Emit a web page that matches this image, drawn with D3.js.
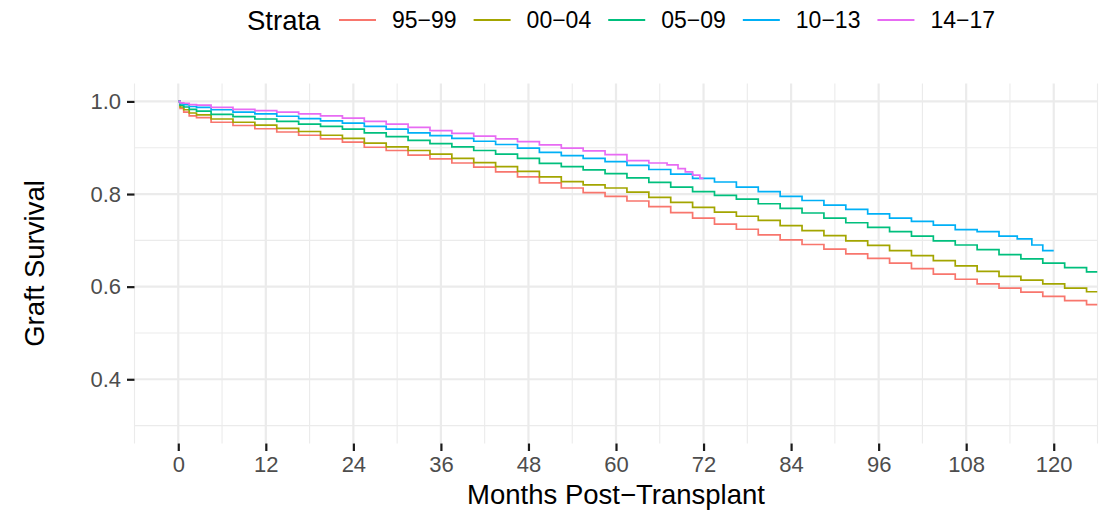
<!DOCTYPE html>
<html>
<head>
<meta charset="utf-8">
<script src="https://cdn.jsdelivr.net/npm/d3@7"></script>
<style>
  html, body { margin: 0; padding: 0; background: #ffffff; }
  svg { display: block; font-family: "Liberation Sans", Arial, Helvetica, sans-serif; }
</style>
</head>
<body>
<svg id="chart" width="1113" height="511"></svg>
<script>
// Kaplan-Meier graft survival by transplant era (strata)
const strata = ["95\u221299", "00\u221204", "05\u221209", "10\u221213", "14\u221217"];
const colors = ["#F8766D", "#A3A500", "#00BF7D", "#00B0F6", "#E76BF3"];

// months at which survival is tabulated
const monthsFull = [0, 0.5, 1, 2, 3, 6, 9, 12, 15, 18, 21, 24, 27, 30, 33, 36, 39, 42, 45, 48,
  51, 54, 57, 60, 63, 66, 69, 72, 75, 78, 81, 84, 87, 90, 93, 96, 99, 102, 105, 108,
  111, 114, 117, 120, 123, 126];

const surv9599 = [1.000, 0.985, 0.977, 0.969, 0.965, 0.955, 0.948, 0.941, 0.934, 0.927, 0.919, 0.912,
  0.901, 0.894, 0.884, 0.876, 0.867, 0.858, 0.848, 0.837, 0.824, 0.813, 0.803, 0.795, 0.785,
  0.773, 0.760, 0.748, 0.735, 0.724, 0.712, 0.701, 0.691, 0.681, 0.671, 0.661, 0.651, 0.639,
  0.627, 0.616, 0.606, 0.597, 0.588, 0.579, 0.570, 0.561];

const surv0004 = [1.000, 0.988, 0.982, 0.975, 0.971, 0.962, 0.955, 0.949, 0.942, 0.935, 0.927, 0.920,
  0.910, 0.902, 0.894, 0.886, 0.877, 0.868, 0.859, 0.849, 0.837, 0.827, 0.820, 0.813, 0.804,
  0.793, 0.782, 0.771, 0.761, 0.752, 0.743, 0.732, 0.721, 0.710, 0.699, 0.689, 0.678, 0.667,
  0.656, 0.645, 0.633, 0.622, 0.614, 0.606, 0.597, 0.589];

const surv0509 = [1.000, 0.992, 0.988, 0.983, 0.979, 0.972, 0.967, 0.962, 0.957, 0.951, 0.946, 0.940,
  0.932, 0.924, 0.916, 0.909, 0.902, 0.894, 0.886, 0.877, 0.866, 0.859, 0.852, 0.844, 0.835,
  0.825, 0.815, 0.805, 0.797, 0.789, 0.779, 0.769, 0.759, 0.748, 0.738, 0.728, 0.719, 0.709,
  0.699, 0.690, 0.680, 0.669, 0.660, 0.651, 0.641, 0.632];

const months1013 = [0, 0.5, 1, 2, 3, 6, 9, 12, 15, 18, 21, 24, 27, 30, 33, 36, 39, 42, 45, 48,
  51, 54, 57, 60, 63, 66, 69, 72, 75, 78, 81, 84, 87, 90, 93, 96, 99, 102, 105, 108,
  111, 114, 116, 118, 119, 120];
const surv1013 = [1.000, 0.995, 0.993, 0.989, 0.987, 0.982, 0.977, 0.973, 0.968, 0.963, 0.958, 0.953,
  0.946, 0.940, 0.932, 0.926, 0.920, 0.914, 0.907, 0.899, 0.890, 0.883, 0.877, 0.870, 0.862,
  0.853, 0.843, 0.834, 0.826, 0.815, 0.805, 0.795, 0.786, 0.776, 0.767, 0.757, 0.748, 0.741,
  0.733, 0.723, 0.719, 0.709, 0.703, 0.690, 0.678, 0.678];

const months1417 = [0, 0.5, 1, 2, 3, 6, 9, 12, 15, 18, 21, 24, 27, 30, 33, 36, 39, 42, 45, 48,
  51, 54, 57, 60, 63, 66, 68, 69, 70, 71, 72];
const surv1417 = [1.000, 0.997, 0.996, 0.993, 0.992, 0.987, 0.983, 0.980, 0.977, 0.973, 0.969, 0.964,
  0.957, 0.951, 0.944, 0.937, 0.931, 0.925, 0.919, 0.913, 0.906, 0.899, 0.893, 0.885, 0.872,
  0.867, 0.863, 0.855, 0.848, 0.841, 0.834];

const seriesMonths = [monthsFull, monthsFull, monthsFull, months1013, months1417];
const seriesSurv = [surv9599, surv0004, surv0509, surv1013, surv1417];

const xTicks = [0, 12, 24, 36, 48, 60, 72, 84, 96, 108, 120];
const xMinor = [-6, 6, 18, 30, 42, 54, 66, 78, 90, 102, 114, 126];
const yTicks = [0.4, 0.6, 0.8, 1.0];
const yMinor = [0.3, 0.5, 0.7, 0.9];

const xTitle = "Months Post\u2212Transplant";
const yTitle = "Graft Survival";
const legendTitle = "Strata";

// ---- layout ----
const panel = { left: 134.5, right: 1097.5, top: 83.5, bottom: 443.5 };
const svg = d3.select("#chart");

const x = d3.scaleLinear().domain([-6, 126]).range([panel.left, panel.right]);
const y = d3.scaleLinear().domain([0.2613, 1.0387]).range([panel.bottom, panel.top]);

const grid = svg.append("g");
// minor grid
grid.selectAll(".vminor").data(xMinor).join("line")
  .attr("x1", d => x(d)).attr("x2", d => x(d))
  .attr("y1", panel.top).attr("y2", panel.bottom)
  .attr("stroke", "#ebebeb").attr("stroke-width", 1.1);
grid.selectAll(".hminor").data(yMinor).join("line")
  .attr("x1", panel.left).attr("x2", panel.right)
  .attr("y1", d => y(d)).attr("y2", d => y(d))
  .attr("stroke", "#ebebeb").attr("stroke-width", 1.1);
// major grid
grid.selectAll(".vmajor").data(xTicks).join("line")
  .attr("x1", d => x(d)).attr("x2", d => x(d))
  .attr("y1", panel.top).attr("y2", panel.bottom)
  .attr("stroke", "#ebebeb").attr("stroke-width", 2.2);
grid.selectAll(".hmajor").data(yTicks).join("line")
  .attr("x1", panel.left).attr("x2", panel.right)
  .attr("y1", d => y(d)).attr("y2", d => y(d))
  .attr("stroke", "#ebebeb").attr("stroke-width", 2.2);

// survival curves
svg.append("clipPath").attr("id", "panelClip")
  .append("rect")
  .attr("x", panel.left).attr("y", panel.top)
  .attr("width", panel.right - panel.left).attr("height", panel.bottom - panel.top);

const line = d3.line()
  .x(d => x(d[0]))
  .y(d => y(d[1]))
  .curve(d3.curveStep);

const curves = svg.append("g").attr("clip-path", "url(#panelClip)");
strata.forEach((s, i) => {
  const pts = seriesMonths[i].map((m, j) => [m, seriesSurv[i][j]]);
  curves.append("path")
    .datum(pts)
    .attr("d", line)
    .attr("fill", "none")
    .attr("stroke", colors[i])
    .attr("stroke-width", 1.7)
    .attr("stroke-linejoin", "miter");
});

// axes
const xAxis = d3.axisBottom(x).tickValues(xTicks).tickSize(7.5).tickPadding(5)
  .tickFormat(d3.format("d"));
const gx = svg.append("g").attr("transform", `translate(0,${panel.bottom})`).call(xAxis);
gx.select(".domain").remove();
gx.selectAll(".tick line").attr("stroke", "#1a1a1a").attr("stroke-width", 2.2);
gx.selectAll(".tick text").attr("fill", "#4d4d4d").attr("font-size", 22)
  .attr("font-family", "Liberation Sans, Arial, sans-serif");

const yAxis = d3.axisLeft(y).tickValues(yTicks).tickSize(7.5).tickPadding(6)
  .tickFormat(d3.format(".1f"));
const gy = svg.append("g").attr("transform", `translate(${panel.left},0)`).call(yAxis);
gy.select(".domain").remove();
gy.selectAll(".tick line").attr("stroke", "#1a1a1a").attr("stroke-width", 2.2);
gy.selectAll(".tick text").attr("fill", "#4d4d4d").attr("font-size", 22)
  .attr("font-family", "Liberation Sans, Arial, sans-serif");

// axis titles
svg.append("text")
  .attr("x", (panel.left + panel.right) / 2)
  .attr("y", 504)
  .attr("text-anchor", "middle")
  .attr("font-size", 27.5)
  .attr("fill", "#000")
  .text(xTitle);

svg.append("text")
  .attr("transform", `translate(44,${(panel.top + panel.bottom) / 2}) rotate(-90)`)
  .attr("text-anchor", "middle")
  .attr("font-size", 27.5)
  .attr("fill", "#000")
  .text(yTitle);

// legend across the top
const legend = svg.append("g");
legend.append("text")
  .attr("x", 247).attr("y", 30)
  .attr("font-size", 27.5)
  .attr("fill", "#000")
  .text(legendTitle);

let lx = 339;
strata.forEach((s, i) => {
  legend.append("line")
    .attr("x1", lx).attr("x2", lx + 37)
    .attr("y1", 20).attr("y2", 20)
    .attr("stroke", colors[i]).attr("stroke-width", 1.8);
  const t = legend.append("text")
    .attr("x", lx + 53).attr("y", 28)
    .attr("font-size", 23)
    .attr("fill", "#000")
    .text(s);
  lx = lx + 53 + t.node().getComputedTextLength() + 17;
});
</script>
</body>
</html>
